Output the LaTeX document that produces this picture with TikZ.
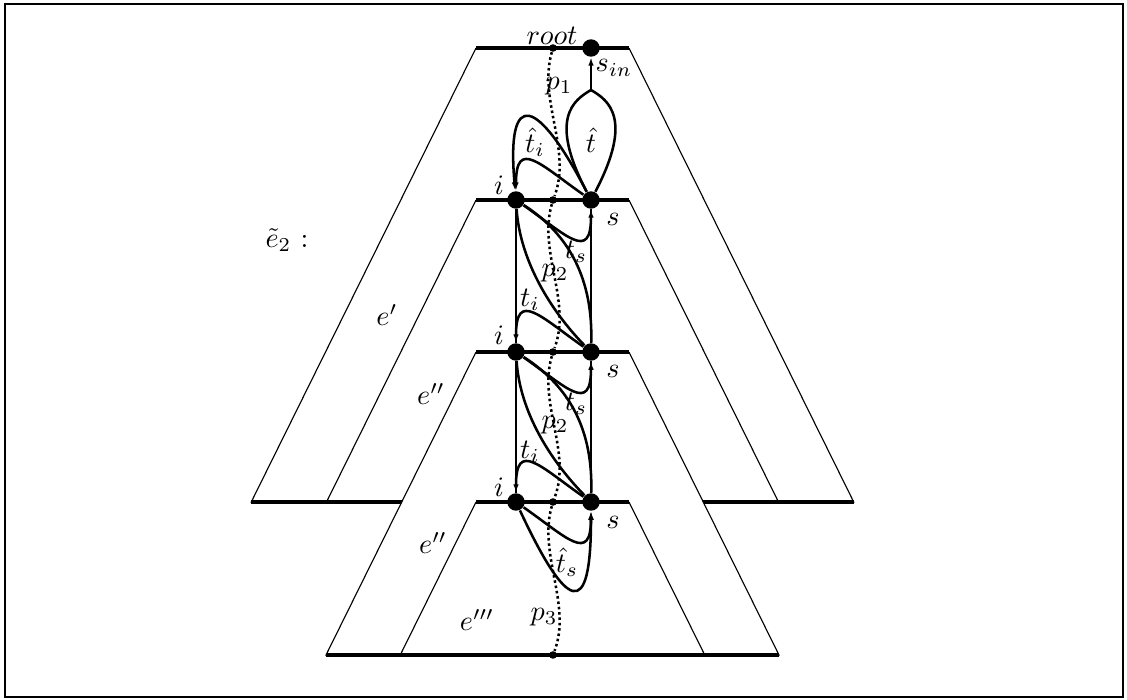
\documentclass[tikz,border=0pt]{standalone}
\usepackage{amsmath}
\usepackage{amssymb}
\usetikzlibrary{arrows.meta}

\begin{document}
\begin{tikzpicture}[
    x=0.355pt, y=-0.355pt,
    vertex/.style={circle, fill=black, inner sep=0pt, minimum size=6.2pt},
    smalldot/.style={circle, fill=black, inner sep=0pt, minimum size=2.7pt},
    trunk/.style={line width=0.75pt},
    curve/.style={line width=0.9pt},
    tr/.style={line width=0.9pt, -{Latex[length=3pt,width=2pt]}},
    walk/.style={line width=0.9pt, dash pattern=on 0.9pt off 1pt},
    level/.style={line width=1.1pt},
    side/.style={line width=0.4pt, fill=white}
]
    \useasboundingbox (0,0) rectangle (1127,700);
    \draw [line width=0.9pt] (5,4) rectangle (1123,697);

    \foreach \t/\b in {48/502, 200/502, 352/655, 502/655} {
        \pgfmathsetmacro{\w}{76.5+0.495*(\b-\t)}
        \filldraw [side] (476,\t) -- (552.5-\w,\b) -- (552.5+\w,\b) -- (629,\t);
        \draw [level] (476,\t) -- (629,\t);
        \draw [level] (552.5-\w,\b) -- (552.5+\w,\b);
    }

    \node (sin) [vertex] at (591,48) {};
    \node (root) [smalldot] at (553,48) {};
    \node (leaf) [smalldot] at (553,655) {};
    \foreach \k/\y in {1/200, 2/352, 3/502} {
        \node (i\k) [vertex] at (516,\y) {};
        \node (s\k) [vertex] at (591,\y) {};
        \node (d\k) [smalldot] at (553,\y) {};
    }
    \coordinate (neck) at (591,90);

    \draw [walk] (root) .. controls +(-15,52) and +(19,-50) .. (d1)
        .. controls +(-15,52) and +(19,-50) .. (d2)
        .. controls +(-15,52) and +(19,-50) .. (d3)
        .. controls +(-15,52) and +(19,-50) .. (leaf);

    \draw [curve] (s1) .. controls (548,118) and (574,100) .. (neck);
    \draw [curve] (s1) .. controls (634,118) and (608,100) .. (neck);
    \draw [tr] (neck) -- (sin);
    \draw [tr] (s1) .. controls (538,98) and (506,86) .. (i1);
    \draw [tr] (i3) .. controls (567,611) and (591,622) .. (s3);

    \foreach \k in {1,2,3} {
        \draw [tr] (s\k) to[out=145, in=90, looseness=2] (i\k);
        \draw [tr] (i\k) to[out=-35, in=-90, looseness=2] (s\k);
    }
    \foreach \k/\n in {1/2, 2/3} {
        \draw [trunk] (i\k) -- (i\n);
        \draw [trunk] (s\k) -- (s\n);
        \draw [curve] (i\k) .. controls +(54,35) and +(2,-72) .. (s\n);
        \draw [curve] (i\k) .. controls +(4,60) and +(-41,-42) .. (s\n);
    }

    \node (lroot) at (552,36) {$root$};
    \node (lsin) at (614,68) {$s_{in}$};
    \node (lp1) at (559,86) {$p_1$};
    \node (lhti) at (535,142) {$\hat{t}_i$};
    \node (lht) at (591,140) {$\hat{t}$};
    \foreach \k/\y in {1/0, 2/152} {
        \node (lts\k) at (576,252+\y) {$t_s$};
        \node (lp\k) at (555,273+\y) {$p_2$};
        \node (lti\k) at (530,300+\y) {$t_i$};
    }
    \foreach \k/\y in {1/185, 2/335, 3/487} {
        \node (li\k) at (499,\y) {$i$};
    }
    \foreach \k/\y in {1/219, 2/371, 3/522} {
        \node (ls\k) at (613,\y) {$s$};
    }
    \node (lhts) at (567,562) {$\hat{t}_s$};
    \node (lp3) at (544,617) {$p_3$};
    \node (ltree) at (287,240) {$\tilde{e}_2$ :};
    \node (le1) at (387,315) {$e'$};
    \node (le2) at (431,394) {$e''$};
    \node (le3) at (433,543) {$e''$};
    \node (le4) at (477,620) {$e'''$};
\end{tikzpicture}
\end{document}
